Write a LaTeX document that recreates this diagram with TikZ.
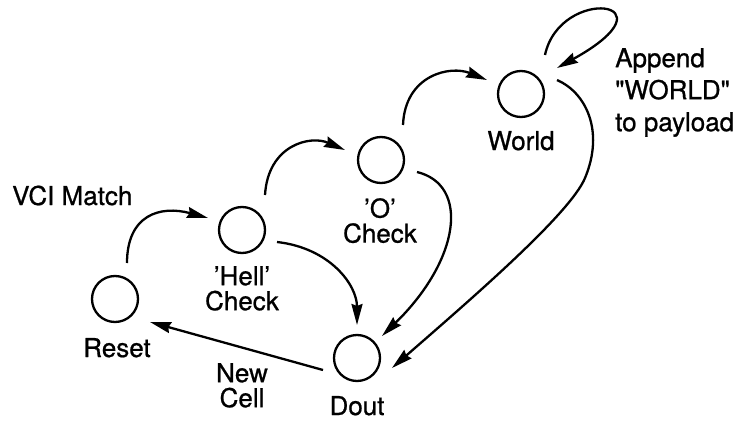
\documentclass[tikz,border=0pt]{standalone}
\usepackage{fontspec}
\setmainfont{TeX Gyre Heros}[Ligatures=TeXOff,FakeBold=0.8]
\usetikzlibrary{arrows.meta,calc}
\begin{document}
\begin{tikzpicture}[x=1pt,y=-1pt,
  state/.style={circle,draw,line width=2.3pt,minimum size=46pt,inner sep=0pt},
  lbl/.style={font=\fontsize{26}{25}\selectfont,inner sep=0pt,align=center},
  edge/.style={line width=2.3pt,-{Stealth[length=21pt,width=11pt,inset=2pt]}}]
\useasboundingbox (0,0) rectangle (743,422);

% states
\node[state] (reset) at (115,299) {};
\node[state] (hell)  at (242,230) {};
\node[state] (o)     at (381,160) {};
\node[state] (world) at (521,94)  {};
\node[state] (dout)  at (357,358) {};

% state names
\node[lbl,anchor=base]       (resetlbl) at (117,357) {Reset};
\node[lbl,anchor=north]      (helllbl)  at (242,266) {’Hell’\\Check};
\node[lbl,anchor=north]      (olbl)     at (380,198) {’O’\\Check};
\node[lbl,anchor=base]       (worldlbl) at (521,150) {World};
\node[lbl,anchor=base]       (doutlbl)  at (357,415) {Dout};

% transition labels
\node[lbl,anchor=base west]  (vci)     at (12,205)  {VCI Match};
\node[lbl,anchor=north]      (newcell) at (242,363) {New\\Cell};
\node[lbl,anchor=north west,font=\fontsize{26}{32}\selectfont,align=left]
                             (append)  at (615,48)  {Append\\"WORLD"\\to payload};

% transitions
\draw[edge] ($(reset)+(12,-36)$) .. controls +(0,-48) and +(-48,-13) .. ($(hell)+(-34,-12)$);
\draw[edge] ($(hell)+(23,-35)$) .. controls +(3,-50) and +(-35,-15) .. ($(o)+(-36,-10)$);
\draw[edge] ($(o)+(22,-35)$) .. controls +(2,-50) and +(-37,-15) .. ($(world)+(-34,-14)$);
\draw[edge] ($(world)+(24,-39)$) .. controls +(15,-70) and +(123,-68) .. ($(world)+(36,-26)$);
\draw[edge] ($(world)+(36,-14)$) .. controls +(28,12) and +(20,-48) .. ($(world)+(64,84)$)
            .. controls +(-15,36) and +(78,-68) .. ($(dout)+(35,10)$);
\draw[edge] ($(o)+(36,12)$) .. controls +(53,13) and +(78,-76) .. ($(dout)+(25,-22)$);
\draw[edge] ($(hell)+(35,12)$) .. controls +(53,6) and +(0,-40) .. ($(dout)+(0,-33)$);
\draw[edge] ($(dout)+(-34,12)$) -- ($(reset)+(35,23)$);
\end{tikzpicture}
\end{document}
